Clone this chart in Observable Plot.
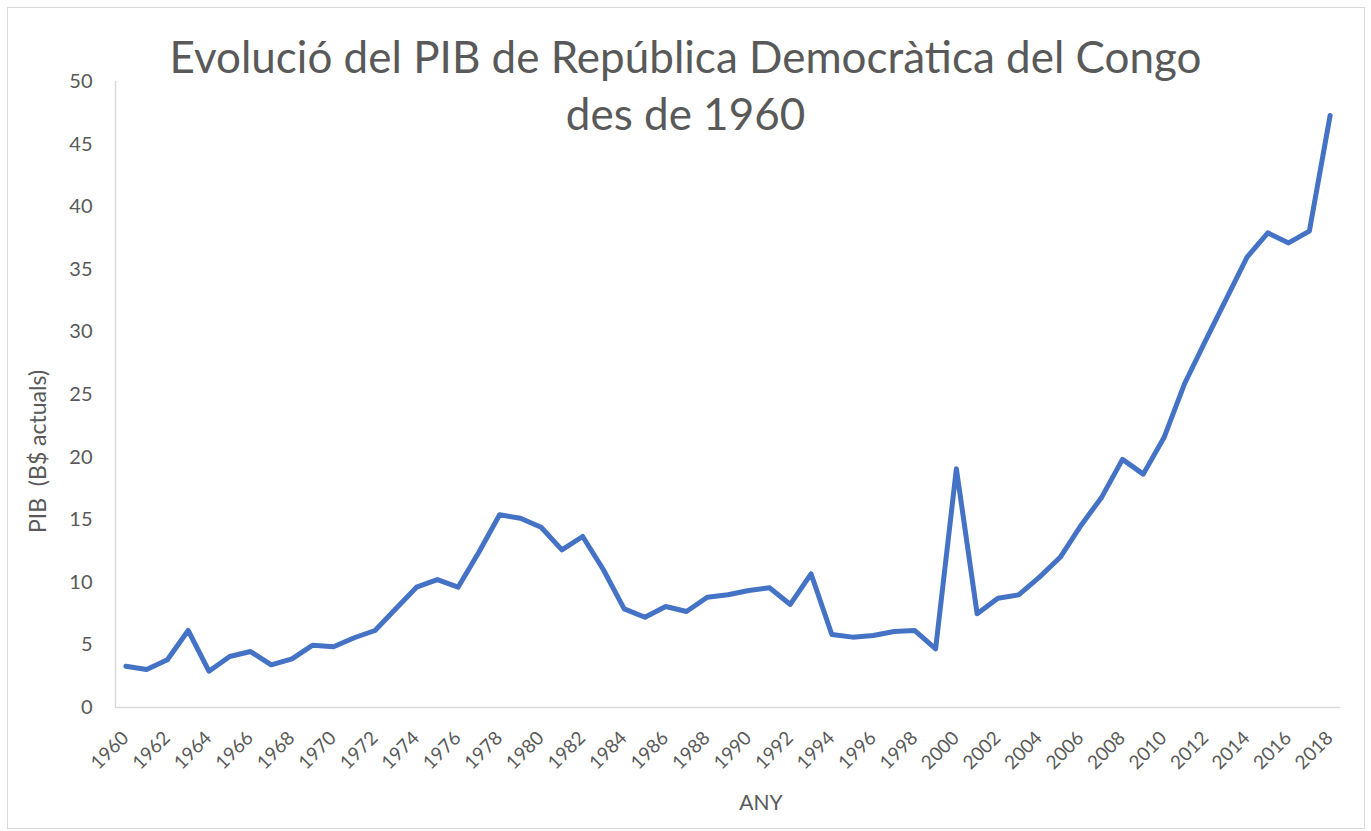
<!DOCTYPE html>
<html>
<head>
<meta charset="utf-8">
<script src="https://cdn.jsdelivr.net/npm/d3@7"></script>
<script src="https://cdn.jsdelivr.net/npm/@observablehq/plot@0.6"></script>
<style>
  html, body { margin: 0; padding: 0; background: #fff; }
  #wrap { position: relative; width: 1371px; height: 831px; overflow: hidden; font-family: Lato, "Open Sans", sans-serif; }
  #frame { position: absolute; left: 7px; top: 7px; width: 1358px; height: 822px; border: 1.5px solid #d9d9d9; box-sizing: border-box; }
  #title { position: absolute; left: 0; top: 28px; width: 1371px; text-align: center; font-size: 44px; line-height: 57px; color: #595959; z-index: 2; }
  #chart { position: absolute; left: 0; top: 0; }
</style>
</head>
<body>
<div id="wrap">
  <div id="frame"></div>
  <div id="chart"></div>
  <div id="title">Evolució del PIB de República Democràtica del Congo<br>des de 1960</div>
</div>
<script>
const years = d3.range(1960, 2019);
const gdp = [
  3.30, 3.03, 3.81, 6.15, 2.90, 4.07, 4.47, 3.41, 3.89, 4.98,
  4.85, 5.57, 6.15, 7.88, 9.61, 10.22, 9.61, 12.40, 15.39, 15.12,
  14.40, 12.59, 13.66, 11.00, 7.88, 7.21, 8.07, 7.67, 8.81, 9.00,
  9.35, 9.56, 8.23, 10.68, 5.83, 5.62, 5.75, 6.07, 6.15, 4.69,
  19.07, 7.48, 8.73, 9.00, 10.41, 12.00, 14.54, 16.80, 19.82, 18.64,
  21.56, 25.90, 29.31, 32.64, 35.97, 37.91, 37.11, 38.05, 47.28
];
const xTicks = d3.range(1960, 2019, 2);
const yTicks = d3.range(0, 51, 5);
const yLabel = "PIB\u00a0 (B$ actuals)";
const xLabel = "ANY";

const data = years.map((y, i) => ({year: y, value: gdp[i]}));
const gray = "#595959";
const axisGray = "#d9d9d9";

const chart = Plot.plot({
  width: 1371,
  height: 831,
  marginLeft: 115,
  marginRight: 31,
  marginTop: 81,
  marginBottom: 124,
  style: {fontFamily: "Lato, 'Open Sans', sans-serif", fontSize: "20px", color: gray, background: "transparent"},
  x: {domain: [1959.5, 2018.5], axis: null},
  y: {domain: [0, 50], axis: null},
  marks: [
    Plot.ruleX([1959.5], {y1: 0, y2: 50, stroke: axisGray, strokeWidth: 1.5}),
    Plot.ruleY([0], {stroke: axisGray, strokeWidth: 1.5}),
    Plot.axisY({ticks: yTicks, tickSize: 0, tickPadding: 23, fontSize: 20, label: null}),
    Plot.text(xTicks, {x: d => d, text: d => String(d), frameAnchor: "bottom", rotate: -45, dx: -16, dy: 43, textAnchor: "middle", lineAnchor: "middle", fontSize: 19, fill: gray}),
    Plot.line(data, {x: "year", y: "value", stroke: "#4472C4", strokeWidth: 5, strokeLinejoin: "round", strokeLinecap: "round"}),
    Plot.text([yLabel], {frameAnchor: "left", dx: -77, dy: 57, rotate: -90, textAnchor: "middle", lineAnchor: "middle", fontSize: 23, fill: gray, text: d => d}),
    Plot.text([xLabel], {frameAnchor: "bottom", dx: 33, dy: 96, textAnchor: "middle", lineAnchor: "middle", fontSize: 21, fill: gray, text: d => d})
  ]
});
document.getElementById("chart").appendChild(chart);
</script>
</body>
</html>
